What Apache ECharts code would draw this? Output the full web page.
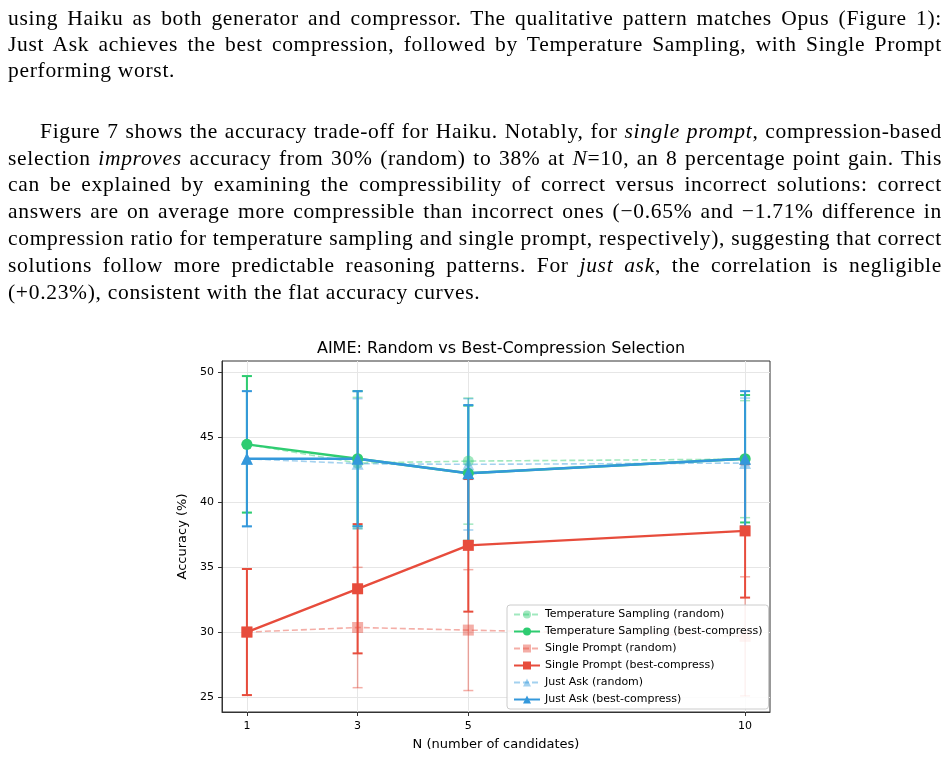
<!DOCTYPE html>
<html>
<head>
<meta charset="utf-8">
<script src="https://cdn.jsdelivr.net/npm/echarts@6/dist/echarts.min.js"></script>
<style>
  html, body { margin: 0; padding: 0; background: #fff; }
  #page { position: relative; width: 950px; height: 758px; overflow: hidden; }
  #chart { position: absolute; left: 0; top: 0; width: 950px; height: 758px; }
  .ln {
    position: absolute; left: 8px; width: 934px; height: 26px; line-height: 26px;
    font-family: "Liberation Serif", "DejaVu Serif", serif; font-size: 21.5px; color: #000;
    letter-spacing: 0.7px; white-space: nowrap; z-index: 2;
  }
  .just { text-align: justify; text-align-last: justify; white-space: normal; }
</style>
</head>
<body>
<div id="page">
  <div id="chart"></div>
  <div class="ln just" style="top:5px">using Haiku as both generator and compressor. The qualitative pattern matches Opus (Figure 1):</div>
  <div class="ln just" style="top:31px">Just Ask achieves the best compression, followed by Temperature Sampling, with Single Prompt</div>
  <div class="ln" style="top:57px">performing worst.</div>

  <div class="ln just" style="top:118px; left:40px; width:902px">Figure 7 shows the accuracy trade-off for Haiku. Notably, for <i>single prompt</i>, compression-based</div>
  <div class="ln just" style="top:145px">selection <i>improves</i> accuracy from 30% (random) to 38% at <i>N</i>=10, an 8 percentage point gain. This</div>
  <div class="ln just" style="top:171px">can be explained by examining the compressibility of correct versus incorrect solutions: correct</div>
  <div class="ln just" style="top:198px">answers are on average more compressible than incorrect ones (−0.65% and −1.71% difference in</div>
  <div class="ln just" style="top:225px">compression ratio for temperature sampling and single prompt, respectively), suggesting that correct</div>
  <div class="ln just" style="top:252px">solutions follow more predictable reasoning patterns. For <i>just ask</i>, the correlation is negligible</div>
  <div class="ln" style="top:279px">(+0.23%), consistent with the flat accuracy curves.</div>
</div>

<script>
// candidates per problem
const nValues = [1, 3, 5, 10]
const xTicks = [1, 3, 5, 10]
const yTicks = [25, 30, 35, 40, 45, 50]

// accuracy (%) and error half-width
const tsRandom = [44.44, 43.0, 43.15, 43.3]
const tsRandomErr = [5.25, 5.05, 4.85, 4.5]
const tsBest = [44.44, 43.33, 42.22, 43.33]
const tsBestErr = [5.25, 5.2, 5.2, 4.9]
const spRandom = [30.0, 30.35, 30.15, 29.67]
const spRandomErr = [4.85, 4.63, 4.65, 4.58]
const spBest = [30.0, 33.33, 36.67, 37.78]
const spBestErr = [4.85, 4.97, 5.1, 5.13]
const jaRandom = [43.33, 42.95, 42.9, 43.0]
const jaRandomErr = [5.2, 5.0, 5.05, 5.0]
const jaBest = [43.33, 43.33, 42.22, 43.33]
const jaBestErr = [5.2, 5.2, 5.24, 5.2]

const GREEN = '#2ecc71'
const RED = '#e74c3c'
const BLUE = '#3498db'

function errorBars (color, width, opacity) {
  return function (params, api) {
    let x = api.value(0)
    let lo = api.coord([x, api.value(1)])
    let hi = api.coord([x, api.value(2)])
    let cap = 5
    let style = { stroke: color, lineWidth: width, opacity: opacity }
    return {
      type: 'group',
      children: [
        { type: 'line', shape: { x1: lo[0], y1: lo[1], x2: hi[0], y2: hi[1] }, style: style },
        { type: 'line', shape: { x1: lo[0] - cap, y1: lo[1], x2: lo[0] + cap, y2: lo[1] }, style: style },
        { type: 'line', shape: { x1: hi[0] - cap, y1: hi[1], x2: hi[0] + cap, y2: hi[1] }, style: style }
      ]
    }
  }
}

function makeSeries (name, values, errs, color, symbol, random) {
  let opacity = random ? 0.45 : 1
  let errData = values.map((v, i) => [nValues[i], v - errs[i], v + errs[i]])
  return [
    {
      name: name + ' err',
      type: 'custom',
      renderItem: errorBars(color, random ? 1.5 : 2, opacity),
      data: errData,
      encode: { x: 0, y: [1, 2] },
      silent: true
    },
    {
      name: name,
      type: 'line',
      data: values.map((v, i) => [nValues[i], v]),
      symbol: symbol,
      symbolSize: symbol === 'triangle' ? 12 : 11,
      showAllSymbol: true,
      color: color,
      itemStyle: { color: color, opacity: opacity },
      lineStyle: { color: color, width: random ? 1.6 : 2.4, type: random ? [6, 3] : 'solid', opacity: opacity },
      emphasis: { disabled: true }
    }
  ]
}

let chart = echarts.init(document.getElementById('chart'))
chart.setOption({
  animation: false,
  backgroundColor: '#fff',
  title: {
    text: 'AIME: Random vs Best-Compression Selection',
    left: 496,
    top: 336,
    textAlign: 'center',
    textStyle: { fontFamily: 'DejaVu Sans', fontSize: 16, fontWeight: 'normal', color: '#000' }
  },
  grid: {
    left: 222,
    right: 180,
    top: 361,
    bottom: 46,
    show: true,
    borderColor: '#333',
    borderWidth: 1
  },
  xAxis: {
    type: 'value',
    min: 0.55,
    max: 10.45,
    name: 'N (number of candidates)',
    nameLocation: 'middle',
    nameGap: 26,
    nameTextStyle: { fontFamily: 'DejaVu Sans', fontSize: 13, color: '#000' },
    axisLine: { lineStyle: { color: '#333' } },
    axisTick: { customValues: xTicks, length: 4, lineStyle: { color: '#333' } },
    axisLabel: { customValues: xTicks, fontFamily: 'DejaVu Sans', fontSize: 11, color: '#000', margin: 9 },
    splitLine: { show: true, lineStyle: { color: '#e6e6e6', width: 1 } }
  },
  yAxis: {
    type: 'value',
    min: 23.85,
    max: 50.85,
    name: 'Accuracy (%)',
    nameLocation: 'middle',
    nameGap: 24,
    nameTextStyle: { fontFamily: 'DejaVu Sans', fontSize: 13, color: '#000' },
    axisLine: { show: true, lineStyle: { color: '#333' } },
    axisTick: { show: true, customValues: yTicks, length: 4, lineStyle: { color: '#333' } },
    axisLabel: { customValues: yTicks, fontFamily: 'DejaVu Sans', fontSize: 11, color: '#000', margin: 8 },
    splitLine: { show: true, lineStyle: { color: '#e6e6e6', width: 1 } }
  },
  legend: {
    orient: 'vertical',
    left: 507,
    top: 605,
    itemWidth: 26,
    itemHeight: 10,
    itemGap: 6,
    padding: [4, 6, 4, 6],
    borderColor: '#ccc',
    borderWidth: 1,
    borderRadius: 3,
    backgroundColor: 'rgba(255,255,255,0.85)',
    textStyle: { fontFamily: 'DejaVu Sans', fontSize: 11, color: '#000' },
    data: [
      'Temperature Sampling (random)',
      'Temperature Sampling (best-compress)',
      'Single Prompt (random)',
      'Single Prompt (best-compress)',
      'Just Ask (random)',
      'Just Ask (best-compress)'
    ]
  },
  series: [].concat(
    makeSeries('Temperature Sampling (random)', tsRandom, tsRandomErr, GREEN, 'circle', true),
    makeSeries('Temperature Sampling (best-compress)', tsBest, tsBestErr, GREEN, 'circle', false),
    makeSeries('Single Prompt (random)', spRandom, spRandomErr, RED, 'rect', true),
    makeSeries('Single Prompt (best-compress)', spBest, spBestErr, RED, 'rect', false),
    makeSeries('Just Ask (random)', jaRandom, jaRandomErr, BLUE, 'triangle', true),
    makeSeries('Just Ask (best-compress)', jaBest, jaBestErr, BLUE, 'triangle', false)
  )
})
</script>
</body>
</html>
